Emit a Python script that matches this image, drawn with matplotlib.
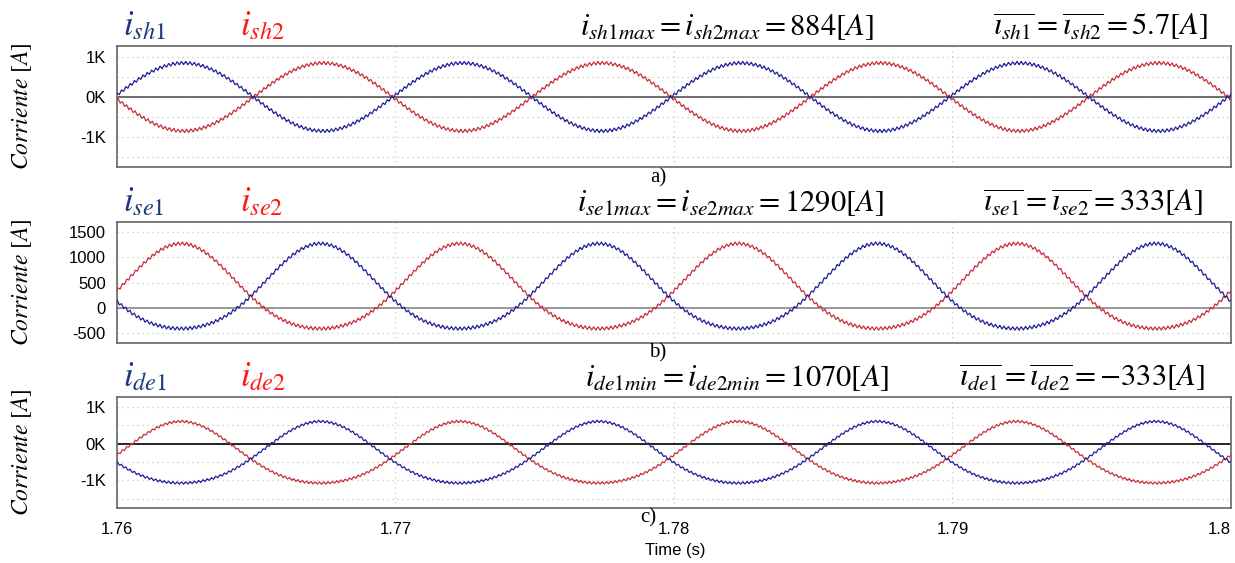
import numpy as np
import matplotlib.pyplot as plt
from matplotlib.ticker import MultipleLocator, FixedLocator, FixedFormatter

plt.rcParams['mathtext.fontset'] = 'stix'
plt.rcParams['font.family'] = ['Liberation Sans', 'DejaVu Sans']

# valores
t_start, t_end = 1.76, 1.80
f_fund = 100.0          # Hz
f_ripple = 6500.0       # Hz (rizado de conmutacion)

panels = ['a', 'b', 'c']
offset = [0, 335, -320]
amp_fund = [850, 840, 840]
amp_2nd = [0, 100, 90]
peak_t_blue = [1.7624, 1.7673, 1.7673]
peak_t_red = [1.7674, 1.7623, 1.7623]
ripple_amp = [40, 32, 32]

ylims = [(-1750, 1275), (-690, 1700), (-1750, 1275)]
yticks = [[-1000, 0, 1000], [-500, 0, 500, 1000, 1500], [-1000, 0, 1000]]
yticklabels = [['-1K', '0K', '1K'], ['-500', '0', '500', '1000', '1500'], ['-1K', '0K', '1K']]
xticks = [1.76, 1.77, 1.78, 1.79, 1.80]
xticklabels = ['1.76', '1.77', '1.78', '1.79', '1.8']

names = ['sh', 'se', 'de']
max_txt = [r'$i_{sh1max}=i_{sh2max}=884[A]$',
           r'$i_{se1max}=i_{se2max}=1290[A]$',
           r'$i_{de1min}=i_{de2min}=1070[A]$']
mean_txt = [r'$\overline{\iota_{sh1}}=\overline{\iota_{sh2}}=5.7[A]$',
            r'$\overline{\iota_{se1}}=\overline{\iota_{se2}}=333[A]$',
            r'$\overline{\iota_{de1}}=\overline{\iota_{de2}}=-333[A]$']
captions = ['a)', 'b)', 'c)']

# posiciones (pixeles de la imagen 1235x563)
W, H = 1235, 563
ax_px = [(117, 46, 1231, 167), (117, 222, 1231, 343), (117, 397, 1231, 508)]
zero_col = ['#555555', '#888888', '#000000']
max_x = [580, 577, 585]
mean_right = [1208, 1203, 1205]
caption_xy = [(658, 178), (658, 353), (648, 518)]

blue = '#22229a'
red = '#c8323c'
lab_blue = '#1f3a7a'
lab_red = '#ff1a1a'

t = np.linspace(t_start, t_end, 24000)


def wave(i, peak_t, ph):
    th = 2 * np.pi * f_fund * (t - peak_t)
    rip = ripple_amp[i] * (2 / np.pi) * np.arcsin(np.sin(2 * np.pi * f_ripple * t + ph))
    return offset[i] + amp_fund[i] * np.cos(th) + amp_2nd[i] * np.cos(2 * th) + rip


fig = plt.figure(figsize=(W / 100, H / 100), dpi=100)

for i in range(3):
    x0, y0, x1, y1 = ax_px[i]
    ax = fig.add_axes([x0 / W, 1 - y1 / H, (x1 - x0) / W, (y1 - y0) / H])
    ax.plot(t, wave(i, peak_t_red[i], 0.0), color=red, lw=0.9, zorder=3)
    ax.plot(t, wave(i, peak_t_blue[i], 1.3), color=blue, lw=0.9, zorder=4)
    ax.axhline(0, color=zero_col[i], lw=1.2, zorder=2)
    ax.set_xlim(t_start, t_end)
    ax.set_ylim(*ylims[i])

    ax.yaxis.set_major_locator(FixedLocator(yticks[i]))
    ax.yaxis.set_major_formatter(FixedFormatter(yticklabels[i]))
    ax.yaxis.set_minor_locator(MultipleLocator(500))
    ax.xaxis.set_major_locator(FixedLocator(xticks))
    ax.grid(True, which='both', axis='y', color='#c8c8c8', ls=(0, (1, 3)), lw=0.9)
    ax.grid(True, which='major', axis='x', color='#c8c8c8', ls=(0, (1, 3)), lw=0.9)
    ax.tick_params(which='both', length=0, labelsize=12, pad=8)
    if i == 2:
        ax.set_xticklabels(xticklabels)
        ax.tick_params(axis='x', pad=10)
        ax.get_xticklabels()[-1].set_ha('right')
    else:
        ax.tick_params(axis='x', labelbottom=False)
    for s in ax.spines.values():
        s.set_color('#666666')
        s.set_linewidth(1.2)

    yc = 1 - (y0 + y1) / 2 / H
    fig.text(22 / W, yc, r'$Corriente\ [A]$', rotation=90, ha='center', va='center', fontsize=17)

    ytxt = 1 - (y0 - 11) / H
    fig.text(123 / W, ytxt, r'$i_{%s1}$' % names[i], color=lab_blue, fontsize=25, ha='left', va='baseline')
    fig.text(240 / W, ytxt, r'$i_{%s2}$' % names[i], color=lab_red, fontsize=25, ha='left', va='baseline')
    fig.text(max_x[i] / W, ytxt, max_txt[i], fontsize=22, ha='left', va='baseline')
    fig.text(mean_right[i] / W, ytxt, mean_txt[i], fontsize=22, ha='right', va='baseline')
    cx, cy = caption_xy[i]
    fig.text(cx / W, 1 - cy / H, captions[i], family='Liberation Serif',
             fontsize=15, ha='center', va='center')

fig.text(675 / W, 1 - 551 / H, 'Time (s)', fontsize=12, ha='center', va='center')

fig.savefig('out.png', dpi=100)
